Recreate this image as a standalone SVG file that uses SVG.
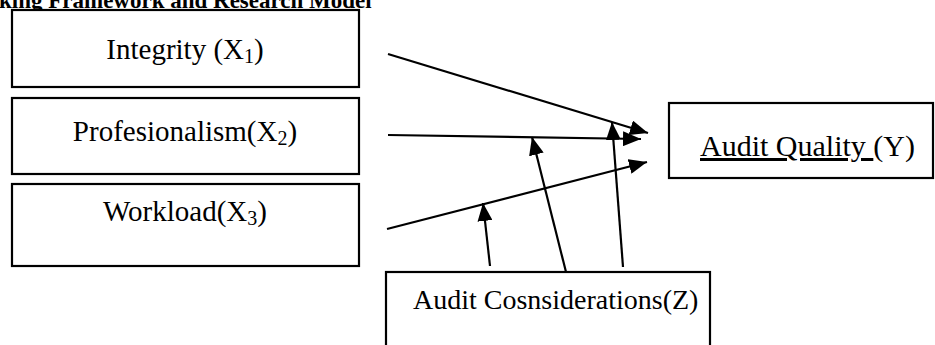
<svg xmlns="http://www.w3.org/2000/svg" width="935" height="345" viewBox="0 0 935 345">
<style>
.box{fill:#fff;stroke:#000;stroke-width:2.2}
.t{font-family:"Liberation Serif","Times New Roman",serif;font-size:29px;fill:#000}
.title{font-family:"Liberation Serif","Times New Roman",serif;font-size:23px;font-weight:bold;fill:#000}
.c{stroke:#000;stroke-width:2.2;fill:none;marker-end:url(#ah)}
</style>
<defs>
<marker id="ah" markerUnits="userSpaceOnUse" markerWidth="19" markerHeight="15" refX="18" refY="7.5" orient="auto">
<path d="M0,0 L18,7.5 L0,15 Z" fill="#000"/>
</marker>
</defs>
<rect width="935" height="345" fill="#fff"/>
<text class="title" x="-1" y="8">king Framework and Research Model</text>
<g id="x1">
<rect class="box" x="12" y="10" width="347" height="77"/>
<text class="t" x="185" y="59" text-anchor="middle">Integrity (X<tspan font-size="20" dy="4">1</tspan><tspan dy="-4">)</tspan></text>
</g>
<g id="x2">
<rect class="box" x="12" y="98" width="347" height="76"/>
<text class="t" x="185" y="141" text-anchor="middle">Profesionalism(X<tspan font-size="20" dy="4">2</tspan><tspan dy="-4">)</tspan></text>
</g>
<g id="x3">
<rect class="box" x="12" y="184" width="347" height="82"/>
<text class="t" x="185" y="221" text-anchor="middle">Workload(X<tspan font-size="20" dy="4">3</tspan><tspan dy="-4">)</tspan></text>
</g>
<g id="y">
<rect class="box" x="669" y="103" width="264" height="75"/>
<text class="t" x="700" y="156" style="font-size:30px"><tspan text-decoration="underline">Audit Quality </tspan>(Y)</text>
</g>
<g id="z">
<rect class="box" x="386" y="272" width="324" height="80"/>
<text class="t" x="413" y="309" style="font-size:28px">Audit Cosnsiderations(Z)</text>
</g>
<g id="connectors">
<line class="c" x1="388" y1="54" x2="648" y2="133"/>
<line class="c" x1="388" y1="135" x2="641" y2="139"/>
<line class="c" x1="387" y1="229" x2="647" y2="162"/>
<line class="c" x1="490" y1="266" x2="483" y2="203"/>
<line class="c" x1="566" y1="272" x2="532" y2="137"/>
<line class="c" x1="623" y1="267" x2="612" y2="122"/>
</g>
</svg>
